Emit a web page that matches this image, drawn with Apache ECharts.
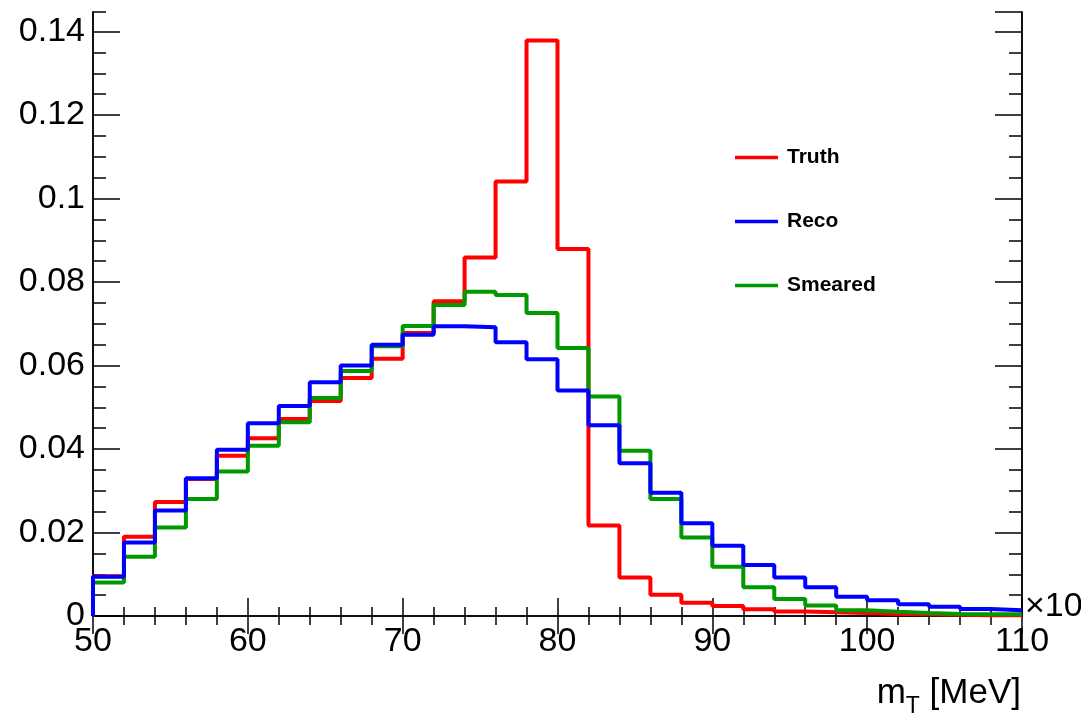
<!DOCTYPE html>
<html>
<head>
<meta charset="utf-8">
<script src="https://cdn.jsdelivr.net/npm/echarts@6/dist/echarts.min.js"></script>
<style>html,body{margin:0;padding:0;background:#fff;}#c{width:1081px;height:720px;}</style>
</head>
<body>
<div id="c"></div>
<script>
// Histogram binning: 30 bins of width 2 from 50 to 110
var binStart = 50;
var binWidth = 2;
var xTicks = [50, 60, 70, 80, 90, 100, 110];
var yTicks = [0, 0.02, 0.04, 0.06, 0.08, 0.1, 0.12, 0.14];
var seriesNames = ['Truth', 'Reco', 'Smeared'];

var truth = [0.0095, 0.0190, 0.0273, 0.0328, 0.0384, 0.0426, 0.0472, 0.0515, 0.0570, 0.0616,
             0.0678, 0.0754, 0.0859, 0.1041, 0.1379, 0.0879, 0.0217, 0.0092, 0.0051, 0.0032,
             0.0024, 0.0016, 0.0011, 0.0009, 0.0007, 0.0005, 0.0004, 0.0003, 0.0002, 0.0002];
var reco = [0.0094, 0.0176, 0.0253, 0.0330, 0.0398, 0.0462, 0.0503, 0.0560, 0.0600, 0.0650,
            0.0674, 0.0694, 0.0692, 0.0656, 0.0615, 0.0540, 0.0457, 0.0366, 0.0295, 0.0222,
            0.0168, 0.0122, 0.0092, 0.0069, 0.0046, 0.0038, 0.0028, 0.0022, 0.0017, 0.0014];
var smeared = [0.0080, 0.0142, 0.0212, 0.0280, 0.0346, 0.0408, 0.0464, 0.0522, 0.0587, 0.0646,
               0.0695, 0.0745, 0.0777, 0.0769, 0.0726, 0.0642, 0.0526, 0.0396, 0.0280, 0.0188,
               0.0118, 0.0069, 0.0041, 0.0025, 0.0014, 0.0010, 0.0007, 0.0005, 0.0004, 0.0004];

function histSteps(vals) {
  var pts = [[binStart, 0]];
  for (var i = 0; i < vals.length; i++) pts.push([binStart + i * binWidth, vals[i]]);
  pts.push([binStart + vals.length * binWidth, vals[vals.length - 1]]);
  return pts;
}

var FONT = 'Liberation Sans, Arial, sans-serif';
var chart = echarts.init(document.getElementById('c'), null, {renderer: 'canvas'});
var axisLine = {show: true, lineStyle: {color: '#000', width: 1.5}};
var yMax = 0.1447;

function xAx(pos, showLabel) {
  return {
    type: 'value', position: pos, min: xTicks[0], max: xTicks[xTicks.length - 1], interval: 10,
    axisLine: axisLine,
    axisTick: {show: true, inside: true, length: 18, lineStyle: {color: '#000', width: 1.5}},
    minorTick: {show: true, splitNumber: 5, length: 9, lineStyle: {color: '#000', width: 1.5}},
    splitLine: {show: false}, minorSplitLine: {show: false},
    axisLabel: {show: showLabel, fontFamily: FONT, fontSize: 34, color: '#000', margin: 9}
  };
}
function yAx(pos, interval, len, showLabel) {
  return {
    type: 'value', position: pos, min: 0, max: yMax, interval: interval,
    axisLine: axisLine,
    axisTick: {show: true, inside: true, length: len, lineStyle: {color: '#000', width: 1.5}},
    splitLine: {show: false},
    axisLabel: {show: showLabel, showMaxLabel: false, fontFamily: FONT, fontSize: 34, color: '#000', margin: 8,
      formatter: function (v) { return yTicks.indexOf(+v.toFixed(4)) >= 0 ? String(+v.toFixed(4)) : ''; }}
  };
}

var colors = {Truth: '#ff0000', Reco: '#0000ff', Smeared: '#009a00'};
var dataMap = {Truth: truth, Reco: reco, Smeared: smeared};
var drawOrder = ['Truth', 'Smeared', 'Reco'];

chart.setOption({
  animation: false,
  backgroundColor: '#fff',
  grid: {left: 93, right: 59, top: 12, bottom: 104, containLabel: false},
  xAxis: [xAx('bottom', true), xAx('top', false)],
  yAxis: [yAx('left', 0.02, 27, true), yAx('left', 0.005, 13, false), yAx('right', 0.02, 27, false), yAx('right', 0.005, 13, false)],
  legend: {
    orient: 'vertical', left: 735, top: 147, itemGap: 43, padding: 0,
    itemWidth: 43, itemHeight: 3.5, icon: 'rect',
    data: seriesNames,
    textStyle: {fontFamily: FONT, fontSize: 21, fontWeight: 'bold', color: '#000', lineHeight: 21, padding: [0, 0, 0, 4]}
  },
  series: drawOrder.map(function (n) {
    return {
      name: n, type: 'line', step: 'end', symbol: 'none', xAxisIndex: 0, yAxisIndex: 0,
      itemStyle: {color: colors[n]},
      lineStyle: {color: colors[n], width: 4},
      data: histSteps(dataMap[n])
    };
  }),
  graphic: [
    {type: 'text', left: 1025, top: 590, style: {text: '×10', font: '34px ' + FONT, fill: '#000'}},
    {type: 'text', right: 60, top: 676, style: {
      text: '{m|m}{s|T}{m| [MeV]}',
      rich: {m: {font: '35px ' + FONT, fill: '#000', verticalAlign: 'bottom'},
             s: {font: '23px ' + FONT, fill: '#000', verticalAlign: 'bottom', padding: [0, 0, -7, 0]}}
    }}
  ]
});
</script>
</body>
</html>
